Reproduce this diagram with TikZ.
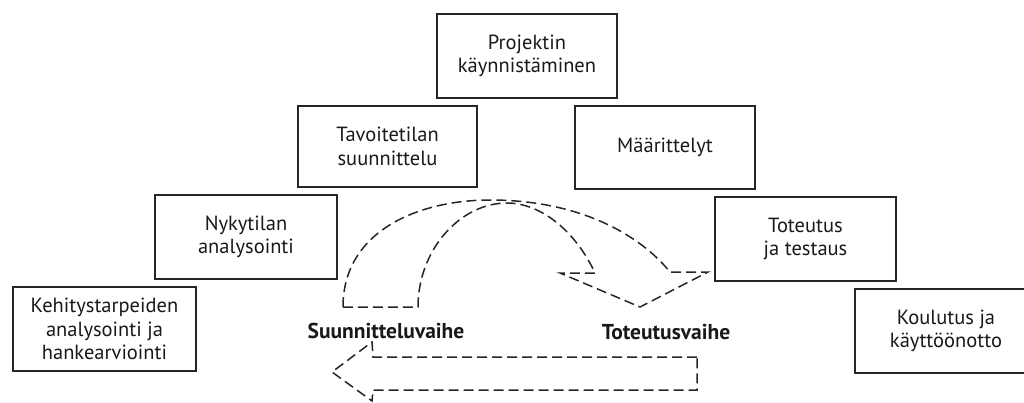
\documentclass[tikz,border=0pt]{standalone}
\usepackage{fontspec}
\setmainfont{PT Sans}
\begin{document}
\begin{tikzpicture}[x=1pt,y=-1pt,
  stage/.style={draw=black!85, line width=1.5pt, inner sep=0pt, align=center,
    font=\fontsize{20.5}{23.5}\selectfont, text=black!90},
  phase/.style={inner sep=0pt, font=\fontsize{21.5}{24}\selectfont\bfseries, text=black!90},
  blockarrow/.style={draw=black!85, line width=1.5pt, dash pattern=on 10pt off 5pt, line join=miter}]
\useasboundingbox (0,0) rectangle (1024,402);
\node[stage, minimum width=180pt, minimum height=84pt] (proj) at (527,56) {Projektin\\käynnistäminen};
\node[stage, minimum width=179pt, minimum height=81pt] (tav) at (387.5,146.5) {Tavoitetilan\\suunnittelu};
\node[stage, minimum width=180pt, minimum height=83pt] (maar) at (665,147.5) {Määrittelyt};
\node[stage, minimum width=182pt, minimum height=84pt] (nyky) at (246,237) {Nykytilan\\analysointi};
\node[stage, minimum width=183pt, minimum height=84pt] (kehi) at (104.5,329) {Kehitystarpeiden\\analysointi ja\\hankearviointi};
\node[stage, minimum width=181pt, minimum height=84pt] (tote) at (805.5,239) {Toteutus\\ja testaus};
\node[stage, minimum width=182pt, minimum height=84pt] (koul) at (946,331) {Koulutus ja\\käyttöönotto};
\node[phase] (suun) at (386,331) {Suunnitteluvaihe};
\node[phase] (totv) at (666,332) {Toteutusvaihe};
% curved block arrow (planning -> implementation)
\draw[blockarrow] (343,307) .. controls (343,230) and (420,200) .. (490,200)
  .. controls (580,200) and (640,235) .. (670,272)
  -- (708,272) -- (640,307) -- (560,273) -- (595,273)
  .. controls (575,230) and (540,203) .. (507,203)
  .. controls (460,203) and (418,250) .. (418,307) -- cycle;
% straight block arrow (back to planning)
\draw[blockarrow] (697,357) -- (373,357) -- (372,342) -- (332,372) -- (372,401)
  -- (373,390) -- (697,390) -- cycle;
\end{tikzpicture}
\end{document}
